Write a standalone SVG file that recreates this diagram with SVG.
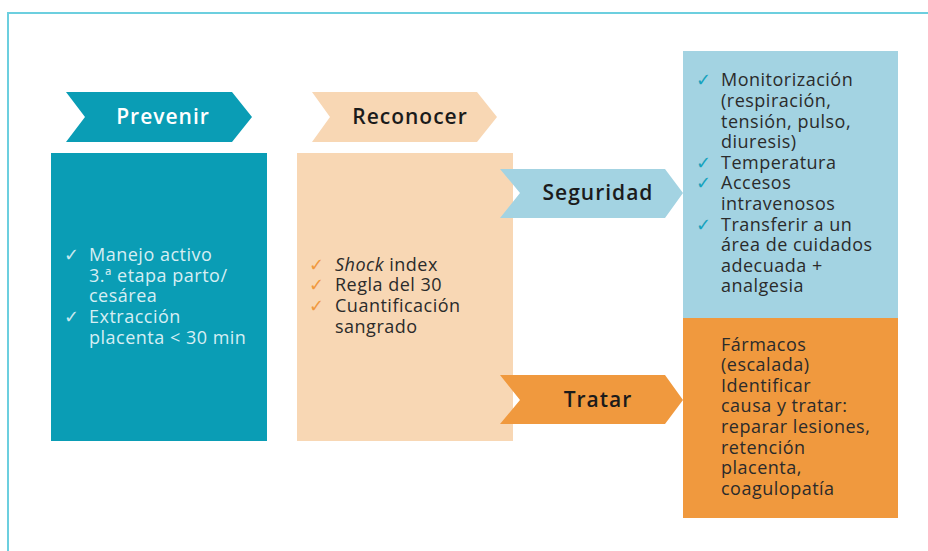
<svg xmlns="http://www.w3.org/2000/svg" width="928" height="551" viewBox="0 0 928 551">
<style>
.t{font-family:"Open Sans","Liberation Sans",sans-serif;font-size:18px;letter-spacing:0.5px;fill:#2b2b2b}
.w{fill:#d6eef3}
.h{font-family:"Open Sans","Liberation Sans",sans-serif;font-size:21px;font-weight:600;letter-spacing:1px;text-anchor:middle;fill:#1b1b1b}
.ck{font-family:"DejaVu Sans",sans-serif;font-size:18px}
</style>
<rect x="0" y="0" width="928" height="551" fill="#fff"/>
<path d="M8,551 V13 H928" fill="none" stroke="#6ccfdf" stroke-width="2"/>
<g id="prevenir">
<polygon points="66,92 232,92 252,117 232,142 66,142 85,117" fill="#0a9db5"/>
<text class="h" x="163" y="124" style="fill:#fff">Prevenir</text>
<rect x="51" y="153" width="216" height="288" fill="#0a9db5"/>
<text class="ck" x="64" y="261" fill="#c8e8ee">✓</text>
<text x="89" y="261" class="t w">Manejo activo</text>
<text x="89" y="282" class="t w">3.ª etapa parto/</text>
<text x="89" y="302" class="t w">cesárea</text>
<text class="ck" x="64" y="323" fill="#c8e8ee">✓</text>
<text x="89" y="323" class="t w">Extracción</text>
<text x="89" y="344" class="t w">placenta &lt; 30 min</text>
</g>
<g id="reconocer">
<polygon points="312,92 477,92 497,117 477,142 312,142 330,117" fill="#f8d7b4"/>
<text class="h" x="410" y="124">Reconocer</text>
<rect x="297" y="153" width="216" height="288" fill="#f8d7b4"/>
<text class="ck" x="309" y="271" fill="#f0993e">✓</text>
<text x="335" y="271" class="t"><tspan font-style="italic">Shock</tspan> index</text>
<text class="ck" x="309" y="291" fill="#f0993e">✓</text>
<text x="335" y="291" class="t">Regla del 30</text>
<text class="ck" x="309" y="312" fill="#f0993e">✓</text>
<text x="335" y="312" class="t">Cuantificación</text>
<text x="335" y="333" class="t">sangrado</text>
</g>
<g id="seguridad">
<rect x="683" y="51" width="215" height="267" fill="#a3d3e2"/>
<polygon points="500,169 665,169 683,193 665,218 500,218 520,193" fill="#a3d3e2"/>
<text class="h" x="598" y="200">Seguridad</text>
<g fill="#16a2bd">
<text class="ck" x="696" y="86">✓</text>
<text class="ck" x="696" y="169">✓</text>
<text class="ck" x="696" y="189">✓</text>
<text class="ck" x="696" y="231">✓</text>
</g>
<text x="721" y="86" class="t">Monitorización</text>
<text x="721" y="107" class="t">(respiración,</text>
<text x="721" y="128" class="t">tensión, pulso,</text>
<text x="721" y="148" class="t">diuresis)</text>
<text x="721" y="169" class="t">Temperatura</text>
<text x="721" y="189" class="t">Accesos</text>
<text x="721" y="210" class="t">intravenosos</text>
<text x="721" y="231" class="t">Transferir a un</text>
<text x="721" y="251" class="t">área de cuidados</text>
<text x="721" y="272" class="t">adecuada +</text>
<text x="721" y="292" class="t">analgesia</text>
</g>
<g id="tratar">
<rect x="683" y="318" width="215" height="200" fill="#f0993e"/>
<polygon points="500,375 665,375 683,400 665,424 500,424 520,400" fill="#f0993e"/>
<text class="h" x="598" y="407">Tratar</text>
<text x="721" y="351" class="t">Fármacos</text>
<text x="721" y="371" class="t">(escalada)</text>
<text x="721" y="392" class="t">Identificar</text>
<text x="721" y="412" class="t">causa y tratar:</text>
<text x="721" y="433" class="t">reparar lesiones,</text>
<text x="721" y="454" class="t">retención</text>
<text x="721" y="474" class="t">placenta,</text>
<text x="721" y="495" class="t">coagulopatía</text>
</g>
<g id="connectors"></g>
</svg>
